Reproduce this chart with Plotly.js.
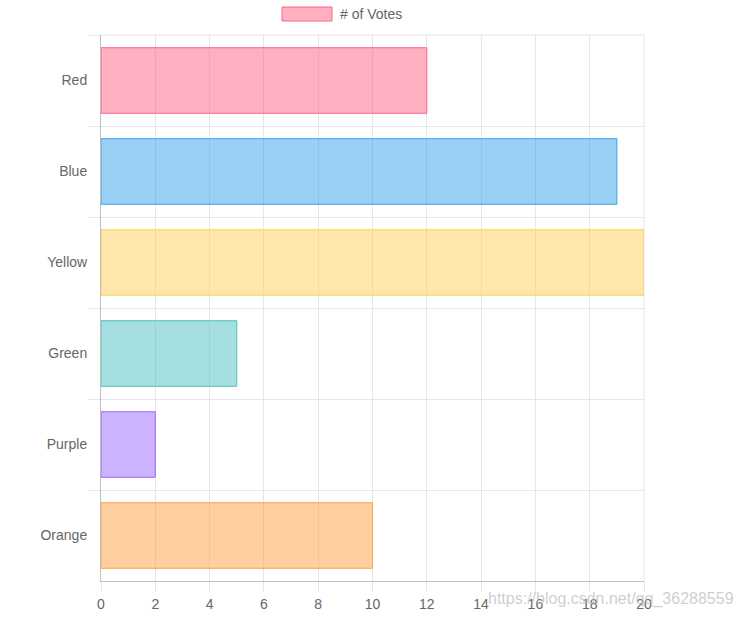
<!DOCTYPE html>
<html>
<head>
<meta charset="utf-8">
<script src="https://cdn.plot.ly/plotly-3.0.1.min.js"></script>
<style>html,body{margin:0;padding:0;background:#fff;}#chart{width:744px;height:618px;}</style>
</head>
<body>
<div id="chart"></div>
<script>
const categories = ["Red", "Blue", "Yellow", "Green", "Purple", "Orange"];
const votes = [12, 19, 20, 5, 2, 10];
const fillColors = ["rgba(255,99,132,0.5)", "rgba(54,162,235,0.5)", "rgba(255,206,86,0.5)", "rgba(75,192,192,0.5)", "rgba(153,102,255,0.5)", "rgba(255,159,64,0.5)"];
const borderColors = ["rgb(255,99,132)", "rgb(54,162,235)", "rgb(255,206,86)", "rgb(75,192,192)", "rgb(153,102,255)", "rgb(255,159,64)"];
const seriesName = "# of Votes";
const xTicks = [0, 2, 4, 6, 8, 10, 12, 14, 16, 18, 20];
const watermark = "https://blog.csdn.net/qq_36288559";

const font = {family: "Liberation Sans, Arial, Helvetica, sans-serif", size: 14, color: "#666"};
const gridColor = "#e6e6e6";
const axisColor = "#bfbfbf";
const W = 744, H = 618, L = 101, R = 100, T = 35, B = 37;
const pw = W - L - R, ph = H - T - B;
const px = x => (x - L) / pw;
const py = y => (H - B - y) / ph;

const trace = {
  type: "bar",
  orientation: "h",
  x: votes,
  y: categories,
  name: seriesName,
  marker: {color: fillColors, line: {color: borderColors, width: 1}},
  hoverinfo: "x+y",
  showlegend: false
};

const layout = {
  width: W, height: H,
  margin: {l: L, r: R, t: T, b: B, pad: 0},
  paper_bgcolor: "#fff", plot_bgcolor: "#fff",
  font: font,
  bargap: 0.28,
  xaxis: {
    range: [0, 20], tickvals: xTicks, ticktext: xTicks.map(String),
    showgrid: true, gridcolor: gridColor, gridwidth: 1,
    zeroline: false,
    showline: true, linecolor: axisColor, linewidth: 1,
    ticks: "outside", ticklen: 10, tickcolor: gridColor, tickwidth: 1,
    ticklabelstandoff: 0,
    tickfont: font, fixedrange: true
  },
  yaxis: {
    type: "category", autorange: "reversed",
    tickson: "boundaries",
    showgrid: true, gridcolor: gridColor, gridwidth: 1,
    zeroline: false,
    showline: true, linecolor: axisColor, linewidth: 1,
    ticks: "outside", ticklen: 12, tickcolor: gridColor, tickwidth: 1,
    ticklabelstandoff: 10,
    tickfont: font, fixedrange: true
  },
  shapes: [
    {type: "line", xref: "paper", yref: "paper", x0: 1, x1: 1, y0: 0, y1: 1, layer: "below",
     line: {color: gridColor, width: 1}},
    {type: "line", xref: "paper", yref: "paper", x0: 0, x1: 1, y0: 1, y1: 1, layer: "below",
     line: {color: gridColor, width: 1}},
    {type: "rect", xref: "paper", yref: "paper", x0: px(282), x1: px(332), y0: py(21), y1: py(7),
     fillcolor: fillColors[0], line: {color: borderColors[0], width: 1}}
  ],
  annotations: [
    {xref: "paper", yref: "paper", x: px(338), y: py(14), xanchor: "left", yanchor: "middle",
     text: seriesName, showarrow: false, font: font},
    {xref: "paper", yref: "paper", x: px(736), y: py(599), xanchor: "right", yanchor: "middle",
     text: watermark, showarrow: false,
     font: {family: "Liberation Sans, Arial, sans-serif", size: 16, color: "rgba(190,190,190,0.75)"}}
  ]
};

Plotly.newPlot("chart", [trace], layout, {displayModeBar: false, responsive: false});
</script>
</body>
</html>
